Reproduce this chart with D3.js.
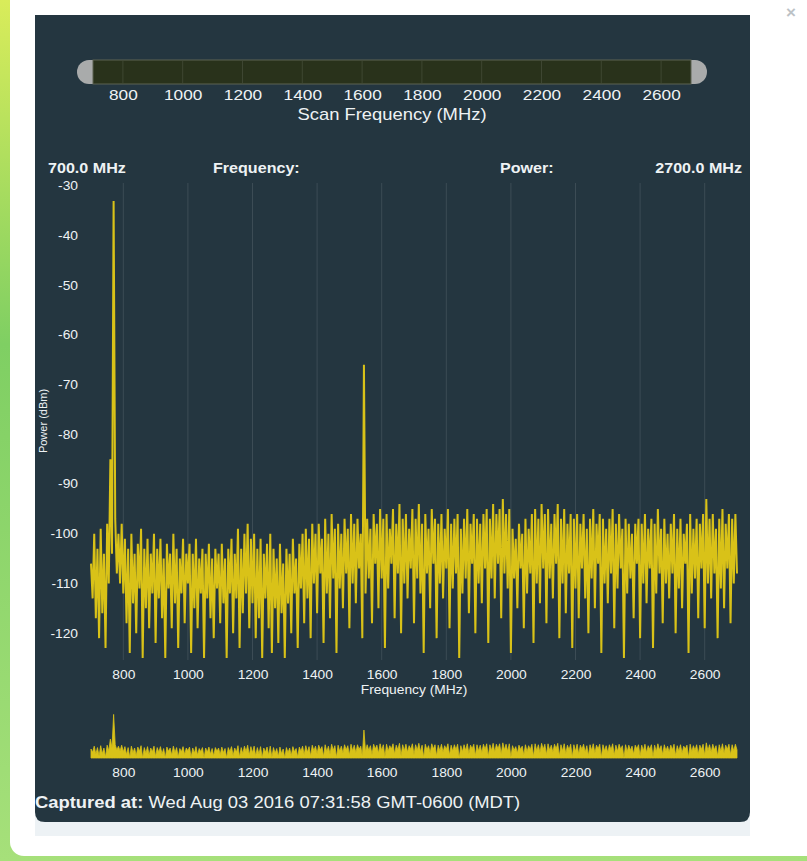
<!DOCTYPE html>
<html>
<head>
<meta charset="utf-8">
<script src="https://cdn.jsdelivr.net/npm/d3@7"></script>
<style>
  html, body { margin: 0; padding: 0; background: #ffffff; overflow: hidden; }
  svg { display: block; }
  text { font-family: "Liberation Sans", Arial, Helvetica, sans-serif; }
</style>
</head>
<body>
<svg id="chart" width="807" height="861"></svg>
<script>
// ---- data ---------------------------------------------------------------
const scanTicks  = [800, 1000, 1200, 1400, 1600, 1800, 2000, 2200, 2400, 2600];
const freqTicks  = [800, 1000, 1200, 1400, 1600, 1800, 2000, 2200, 2400, 2600];
const powerTicks = [-30, -40, -50, -60, -70, -80, -90, -100, -110, -120];
const startMHz = 700, stepMHz = 5, endMHz = 2700;

// sweep samples, one every 5 MHz from 700 to 2700 MHz (dBm)
const powerDbm = [
  -106,-113,-100,-117,-103,-121, -99,-116,-104,-123, -98,-110, -85,-104, -33, -97,-108,-100,-110, -98,
  -112,-101,-118,-103,-124,-100,-114,-104,-120,-102,-111, -99,-125,-103,-115,-101,-119,-104,-112,-100,
  -122,-103,-113,-101,-117,-105,-125,-102,-111,-104,-119,-100,-114,-103,-123,-105,-112,-101,-118,-104,
  -110,-102,-124,-104,-115,-101,-119,-105,-112,-103,-125,-104,-113,-102,-117,-105,-121,-103,-111,-104,
  -118,-102,-114,-105,-125,-103,-112,-101,-120,-104,-113, -99,-123,-103,-116,-100,-112, -98,-119,-101,
  -114,-100,-121,-103,-117,-101,-125,-104,-113,-102,-119,-100,-124,-103,-115,-105,-122,-102,-116,-106,
  -125,-103,-114,-104,-120,-101,-112,-105,-123,-102,-111,-100,-118, -99,-113,-101,-121, -98,-110,-100,
  -116, -98,-108,-101,-122, -97,-112,-100,-117, -96,-109, -99,-124, -98,-111,-100,-115, -97,-108, -99,
  -119, -96,-110, -98,-114, -97,-107,-100,-121, -66,-112, -97,-109, -99,-118, -96,-106, -98,-115, -95,
  -109, -97,-123, -96,-111, -99,-106, -95,-117, -98,-108, -94,-120, -97,-110, -96,-113, -99,-107, -95,
  -118, -97,-109, -94,-112, -98,-124, -96,-108, -99,-115, -95,-106, -97,-121, -98,-110, -96,-113, -99,
  -107, -95,-119, -98,-111, -97,-108, -96,-125, -99,-112, -97,-109, -95,-116, -98,-106, -96,-120, -97,
  -110, -98,-114, -96,-107, -95,-122, -97,-109, -94,-113, -96,-106, -95,-117, -93,-108, -96,-111, -95,
  -124, -99,-109,-101,-115, -98,-107,-100,-119, -97,-112, -99,-108, -96,-122, -95,-110, -97,-114, -94,
  -107, -96,-118, -95,-109, -98,-113, -96,-106, -94,-121, -97,-110, -95,-116, -98,-108, -96,-123, -97,
  -111, -96,-117, -98,-107, -96,-113, -99,-120, -97,-109, -95,-115, -98,-106, -96,-124, -97,-110, -99,
  -114, -97,-108, -95,-119, -98,-111, -96,-107, -99,-125, -97,-112, -98,-109,-100,-117, -98,-106, -97,
  -121, -98,-110, -96,-114, -99,-107, -97,-123, -98,-112, -95,-108, -99,-118, -97,-110,-100,-113, -98,
  -108, -96,-120, -99,-111, -97,-115,-100,-106, -98,-124, -96,-112, -99,-109, -97,-117, -98,-107, -96,
  -119, -93,-110, -97,-113, -96,-108, -99,-121, -97,-111, -95,-115, -98,-107, -96,-118, -97,-110, -96,-108
];

const headerLeft  = "700.0 MHz";
const headerFreq  = "Frequency:";
const headerPower = "Power:";
const headerRight = "2700.0 MHz";
const capturedLabel = "Captured at:";
const capturedTime  = " Wed Aug 03 2016 07:31:58 GMT-0600 (MDT)";

const sweep = powerDbm.map((p, i) => ({ f: startMHz + i * stepMHz, p }));

// ---- styling ------------------------------------------------------------
const PANEL = "#243640";
const TRACE = "#d9c218";
const TEXT  = "#eef2f4";
const GRID  = "rgba(255,255,255,0.11)";
const SX = 1.15;   // horizontal text widening used across the widget

const svg = d3.select("#chart");

// widen a text selection horizontally around its own x position
function widen(sel) {
  sel.each(function () {
    const t = d3.select(this);
    const x = +(t.attr("x") || 0);
    t.attr("x", x / SX).attr("transform", `scale(${SX},1)`);
  });
}
function styleAxis(g, size, weight) {
  g.select(".domain").remove();
  g.selectAll(".tick line").remove();
  g.selectAll(".tick text")
    .attr("fill", TEXT)
    .style("font-size", size + "px")
    .style("font-weight", weight || "normal")
    .style("font-family", '"Liberation Sans", Arial, sans-serif');
  widen(g.selectAll(".tick text"));
}

// ---- surroundings -------------------------------------------------------
const bg = svg.append("defs").append("linearGradient")
  .attr("id", "mapTint").attr("x1", 0).attr("y1", 0).attr("x2", 0).attr("y2", 1);
bg.append("stop").attr("offset", "0%").attr("stop-color", "#d9ec5a");
bg.append("stop").attr("offset", "40%").attr("stop-color", "#7fcf63");
bg.append("stop").attr("offset", "100%").attr("stop-color", "#a6e07a");
svg.append("rect").attr("width", 807).attr("height", 861).attr("fill", "url(#mapTint)");
svg.append("rect").attr("x", 10).attr("y", -20).attr("width", 830).attr("height", 876)
  .attr("rx", 14).attr("fill", "#ffffff");

svg.append("text").attr("x", 791).attr("y", 18).attr("text-anchor", "middle")
  .attr("fill", "#bcc2c6").style("font-size", "17px").style("font-weight", "bold").text("×");

// dark panel with rounded lower corners
const px0 = 35, px1 = 750, py0 = 15, py1 = 822, r = 10;
svg.append("rect").attr("x", px0).attr("y", py1 - 20).attr("width", px1 - px0).attr("height", 34)
  .attr("fill", "#edf2f5");
svg.append("path")
  .attr("d", `M${px0},${py0} H${px1} V${py1 - r} Q${px1},${py1} ${px1 - r},${py1} H${px0 + r} Q${px0},${py1} ${px0},${py1 - r} Z`)
  .attr("fill", PANEL);

// ---- scan range slider --------------------------------------------------
const xs = d3.scaleLinear().domain([startMHz, endMHz]).range([93, 691]);
svg.append("rect").attr("x", 77).attr("y", 60).attr("width", 630).attr("height", 24)
  .attr("rx", 12).attr("fill", "#a9abab");
svg.append("rect").attr("x", xs(startMHz)).attr("y", 60)
  .attr("width", xs(endMHz) - xs(startMHz)).attr("height", 24)
  .attr("fill", "#29321b").attr("stroke", "#5d6252").attr("stroke-width", 1);
svg.append("g").selectAll("line").data(scanTicks).join("line")
  .attr("x1", d => xs(d)).attr("x2", d => xs(d)).attr("y1", 61).attr("y2", 83)
  .attr("stroke", "rgba(255,255,255,0.10)");
const sAxis = svg.append("g").attr("transform", "translate(0,84)")
  .call(d3.axisBottom(xs).tickValues(scanTicks).tickSize(0).tickPadding(5).tickFormat(d3.format("d")));
styleAxis(sAxis, 15);
const scanTitle = svg.append("text").attr("x", 392).attr("y", 120).attr("text-anchor", "middle")
  .attr("fill", TEXT).style("font-size", "16px").text("Scan Frequency (MHz)");
widen(scanTitle);

// ---- header -------------------------------------------------------------
const hdr = svg.append("g").attr("fill", TEXT).style("font-size", "14px").style("font-weight", "bold");
widen(hdr.append("text").attr("x", 48).attr("y", 173).text(headerLeft));
widen(hdr.append("text").attr("x", 213).attr("y", 173).text(headerFreq));
widen(hdr.append("text").attr("x", 500).attr("y", 173).text(headerPower));
widen(hdr.append("text").attr("x", 742).attr("y", 173).attr("text-anchor", "end").text(headerRight));

// ---- main spectrum ------------------------------------------------------
const x = d3.scaleLinear().domain([startMHz, endMHz]).range([91, 737]);
const y = d3.scaleLinear().domain([-125, -30]).range([658, 186]);

svg.append("g").selectAll("line").data(freqTicks).join("line")
  .attr("x1", d => x(d)).attr("x2", d => x(d)).attr("y1", 183).attr("y2", 660)
  .attr("stroke", GRID).attr("stroke-width", 1);

svg.append("defs").append("clipPath").attr("id", "plotClip")
  .append("rect").attr("x", 89).attr("y", 183).attr("width", 650).attr("height", 477);

svg.append("path").datum(sweep)
  .attr("clip-path", "url(#plotClip)")
  .attr("fill", "none").attr("stroke", TRACE).attr("stroke-width", 2)
  .attr("stroke-linejoin", "bevel")
  .attr("d", d3.line().x(d => x(d.f)).y(d => y(d.p)));

const yAxis = svg.append("g").attr("transform", "translate(91,0)")
  .call(d3.axisLeft(y).tickValues(powerTicks).tickSize(0).tickPadding(13).tickFormat(d => String(d)));
styleAxis(yAxis, 12);

const xAxis = svg.append("g").attr("transform", "translate(0,660)")
  .call(d3.axisBottom(x).tickValues(freqTicks).tickSize(0).tickPadding(10).tickFormat(d3.format("d")));
styleAxis(xAxis, 12);

widen(svg.append("text").attr("x", 414).attr("y", 694).attr("text-anchor", "middle")
  .attr("fill", TEXT).style("font-size", "12px").text("Frequency (MHz)"));

svg.append("text").attr("transform", "translate(47,421) rotate(-90)")
  .attr("text-anchor", "middle").attr("fill", TEXT).style("font-size", "11px")
  .text("Power (dBm)");

// ---- overview strip -----------------------------------------------------
const yo = d3.scaleLinear().domain([-125, -30]).range([758, 713]);
svg.append("path").datum(sweep)
  .attr("fill", TRACE).attr("stroke", TRACE).attr("stroke-width", 0.8)
  .attr("d", d3.area().x(d => x(d.f)).y0(yo(-125)).y1(d => yo(d.p)));

const oAxis = svg.append("g").attr("transform", "translate(0,758)")
  .call(d3.axisBottom(x).tickValues(freqTicks).tickSize(0).tickPadding(10).tickFormat(d3.format("d")));
styleAxis(oAxis, 12);

// ---- capture time -------------------------------------------------------
const cap = svg.append("text").attr("x", 35).attr("y", 808).attr("fill", TEXT).style("font-size", "16px");
cap.append("tspan").style("font-weight", "bold").text(capturedLabel);
cap.append("tspan").text(capturedTime);
widen(cap);
</script>
</body>
</html>
